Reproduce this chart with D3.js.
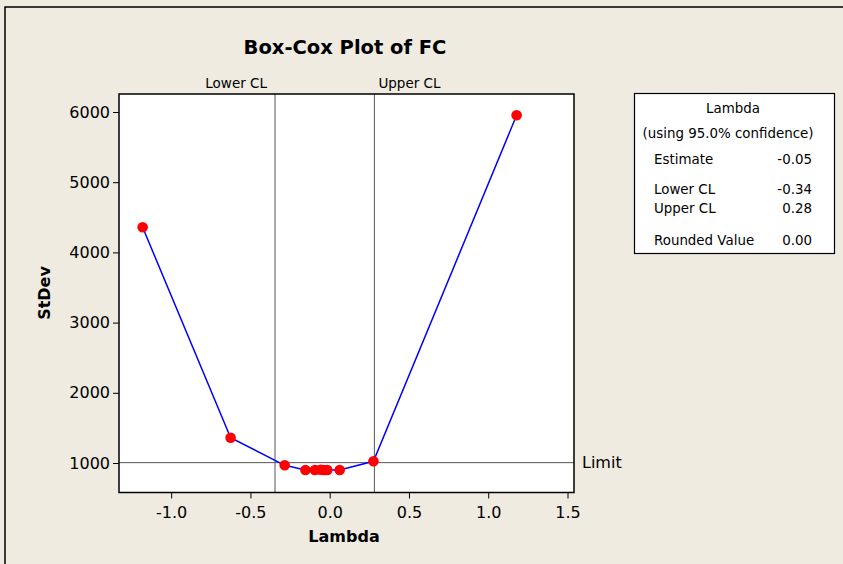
<!DOCTYPE html>
<html><head><meta charset="utf-8">
<script src="https://cdn.jsdelivr.net/npm/d3@7"></script>
<style>
html,body{margin:0;padding:0;background:#EFEBE1;}
svg{display:block;}
text{font-family:"DejaVu Sans",Verdana,sans-serif;fill:#000;}
</style></head>
<body>
<script>
const lambdaValues = [-1.18, -0.625, -0.284, -0.153, -0.093, -0.057, -0.036, -0.015, 0.063, 0.276, 1.179];
const stdevValues  = [4358, 1360, 967, 900, 900, 903, 900, 900, 900, 1024, 5953];
const xTicks = [-1.0, -0.5, 0.0, 0.5, 1.0, 1.5];
const yTicks = [1000, 2000, 3000, 4000, 5000, 6000];
const lowerCL = -0.345;
const upperCL = 0.282;
const limitValue = 1005;
const legendTitle = ["Lambda", "(using 95.0% confidence)"];
const legendLabels = ["Estimate", "Lower CL", "Upper CL", "Rounded Value"];
const legendValues = ["-0.05", "-0.34", "0.28", "0.00"];

const W = 843, H = 564;
const svg = d3.select("body").append("svg").attr("width", W).attr("height", H);

// outer frame
svg.append("rect").attr("x", 5).attr("y", 7).attr("width", W + 10).attr("height", H + 10)
  .attr("fill", "#EFEBE1").attr("stroke", "#000").attr("stroke-width", 1.5);

const L = 119, R = 574, T = 94, B = 492.5;
const x = d3.scaleLinear().domain([-1.329, 1.541]).range([L, R]);
const y = d3.scaleLinear().domain([1000, 6000]).range([463, 112]);

svg.append("rect").attr("x", L).attr("y", T).attr("width", R - L).attr("height", B - T)
  .attr("fill", "#fff");

// limit & CL lines
svg.append("line").attr("x1", L).attr("x2", R).attr("y1", y(limitValue)).attr("y2", y(limitValue))
  .attr("stroke", "#555").attr("stroke-width", 1);
[lowerCL, upperCL].forEach(v => {
  svg.append("line").attr("x1", x(v)).attr("x2", x(v)).attr("y1", T).attr("y2", B)
    .attr("stroke", "#555").attr("stroke-width", 1);
});

// data line & points
const pts = lambdaValues.map((l, i) => [l, stdevValues[i]]);
svg.append("path").datum(pts)
  .attr("d", d3.line().x(d => x(d[0])).y(d => y(d[1])))
  .attr("fill", "none").attr("stroke", "#0000FF").attr("stroke-width", 1.5);
svg.selectAll("circle.pt").data(pts).enter().append("circle")
  .attr("cx", d => x(d[0])).attr("cy", d => y(d[1])).attr("r", 5.3)
  .attr("fill", "#FF0000");

// frame
svg.append("rect").attr("x", L).attr("y", T).attr("width", R - L).attr("height", B - T)
  .attr("fill", "none").attr("stroke", "#000").attr("stroke-width", 1.5);

// axes
const xAxis = d3.axisBottom(x).tickValues(xTicks).tickFormat(d => d.toFixed(1)).tickSize(6).tickSizeOuter(0);
const gx = svg.append("g").attr("transform", `translate(0,${B})`).call(xAxis);
gx.select(".domain").remove();
gx.selectAll("text").attr("font-size", 16).attr("dy", "1.0em").attr("font-family", "DejaVu Sans");
gx.selectAll("line").attr("stroke", "#000");

const yAxis = d3.axisLeft(y).tickValues(yTicks).tickFormat(d => String(d)).tickSize(6).tickSizeOuter(0);
const gy = svg.append("g").attr("transform", `translate(${L},0)`).call(yAxis);
gy.select(".domain").remove();
gy.selectAll("text").attr("font-size", 16).attr("font-family", "DejaVu Sans");
gy.selectAll("line").attr("stroke", "#000");

// titles
svg.append("text").attr("x", 345).attr("y", 54).attr("text-anchor", "middle")
  .attr("font-size", 19.5).attr("font-weight", "bold").text("Box-Cox Plot of FC");
svg.append("text").attr("x", 344).attr("y", 542).attr("text-anchor", "middle")
  .attr("font-size", 16).attr("font-weight", "bold").text("Lambda");
svg.append("text").attr("transform", "translate(50,293) rotate(-90)").attr("text-anchor", "middle")
  .attr("font-size", 16).attr("font-weight", "bold").text("StDev");

svg.append("text").attr("x", x(lowerCL) - 8).attr("y", 88).attr("text-anchor", "end")
  .attr("font-size", 13.5).text("Lower CL");
svg.append("text").attr("x", x(upperCL) + 4).attr("y", 88).attr("text-anchor", "start")
  .attr("font-size", 13.5).text("Upper CL");
svg.append("text").attr("x", 582).attr("y", y(limitValue)).attr("dy", "0.35em")
  .attr("font-size", 16).text("Limit");

// legend box
const lg = svg.append("g");
lg.append("rect").attr("x", 634.5).attr("y", 93.5).attr("width", 200).attr("height", 160)
  .attr("fill", "#fff").attr("stroke", "#000").attr("stroke-width", 1.2);
lg.append("text").attr("x", 733).attr("y", 113).attr("text-anchor", "middle").attr("font-size", 13.4).text(legendTitle[0]);
lg.append("text").attr("x", 728).attr("y", 138).attr("text-anchor", "middle").attr("font-size", 13.4).text(legendTitle[1]);
const rowY = [164, 194, 213, 245];
legendLabels.forEach((t, i) => {
  lg.append("text").attr("x", 654).attr("y", rowY[i]).attr("font-size", 13.4).text(t);
  lg.append("text").attr("x", 812).attr("y", rowY[i]).attr("text-anchor", "end").attr("font-size", 13.4).text(legendValues[i]);
});
</script>
</body></html>
